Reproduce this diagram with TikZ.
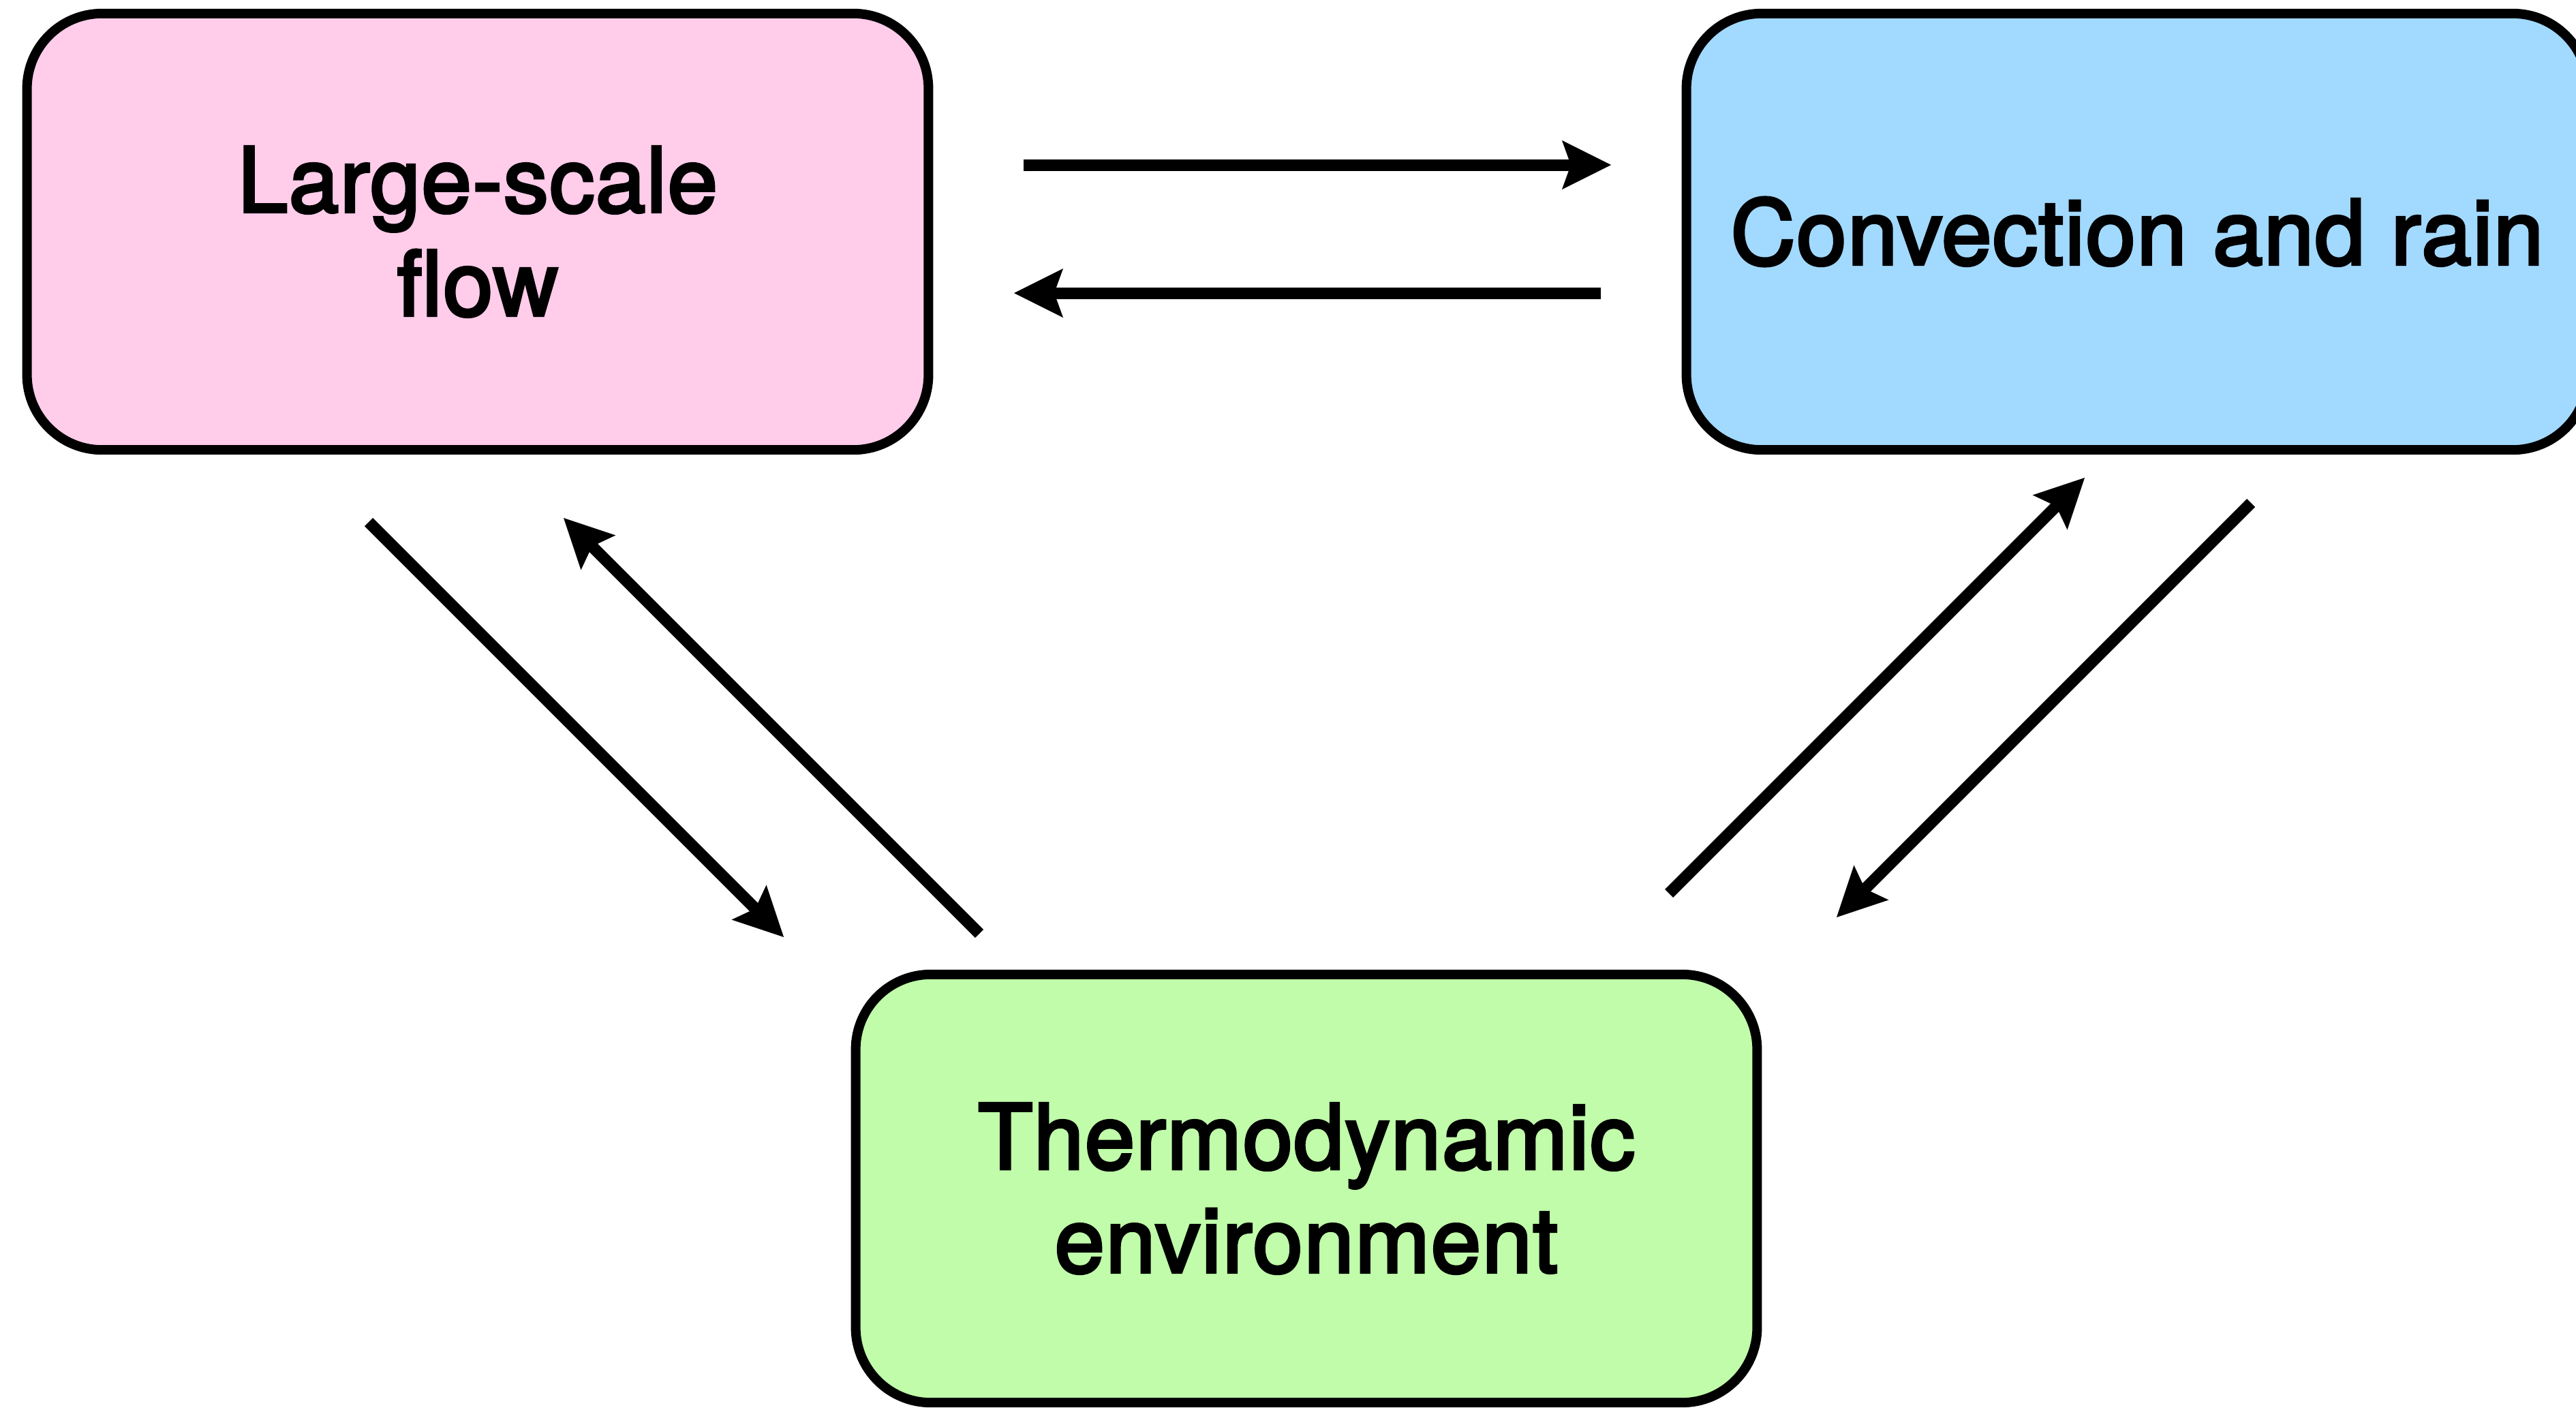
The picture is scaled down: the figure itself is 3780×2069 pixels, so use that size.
\documentclass[tikz,border=0pt]{standalone}
\usepackage{fontspec}
\setmainfont{TeX Gyre Heros}
\newfontfamily\labelfont{TeX Gyre Heros}[FakeBold=3.2, LetterSpace=1.2]
\usetikzlibrary{arrows.meta}
\definecolor{flowpink}{RGB}{255,204,234}
\definecolor{rainblue}{RGB}{162,217,255}
\definecolor{envgreen}{RGB}{192,252,169}
\begin{document}
\begin{tikzpicture}[x=0.01cm,y=-0.01cm,
  box/.style={draw=black, line width=0.14cm, rounded corners=1.1cm,
    minimum width=13.22cm, minimum height=6.4cm, inner sep=0pt,
    align=center, font=\labelfont\fontsize{37.5}{43.2}\selectfont},
  link/.style={line width=0.17cm,
    -{Stealth[length=0.72cm, width=0.72cm, inset=0.13cm, line width=0pt]}}]
  % page area
  \clip (0,0) rectangle (3780,2069);
  \fill[white] (0,0) rectangle (3780,2069);

  % the three components
  \node[box, fill=flowpink] (flow) at (701,340) {Large-scale\\flow};
  \node[box, fill=rainblue] (conv) at (3136,340) {Convection and rain};
  \node[box, fill=envgreen, minimum height=6.28cm] (env) at (1917,1744) {Thermodynamic\\environment};

  % end points of the interaction arrows
  \coordinate (fc1) at (1502,242);  \coordinate (fc2) at (2364,242);
  \coordinate (cf1) at (2349,430);  \coordinate (cf2) at (1488,430);
  \coordinate (fe1) at (541,766);   \coordinate (fe2) at (1150,1375);
  \coordinate (ef1) at (1437,1370); \coordinate (ef2) at (827,760);
  \coordinate (ec1) at (2449,1311); \coordinate (ec2) at (3059,701);
  \coordinate (ce1) at (3303,738);  \coordinate (ce2) at (2695,1346);

  % interactions
  \draw[link] (fc1) -- (fc2);
  \draw[link] (cf1) -- (cf2);
  \draw[link] (fe1) -- (fe2);
  \draw[link] (ef1) -- (ef2);
  \draw[link] (ec1) -- (ec2);
  \draw[link] (ce1) -- (ce2);
\end{tikzpicture}
\end{document}
